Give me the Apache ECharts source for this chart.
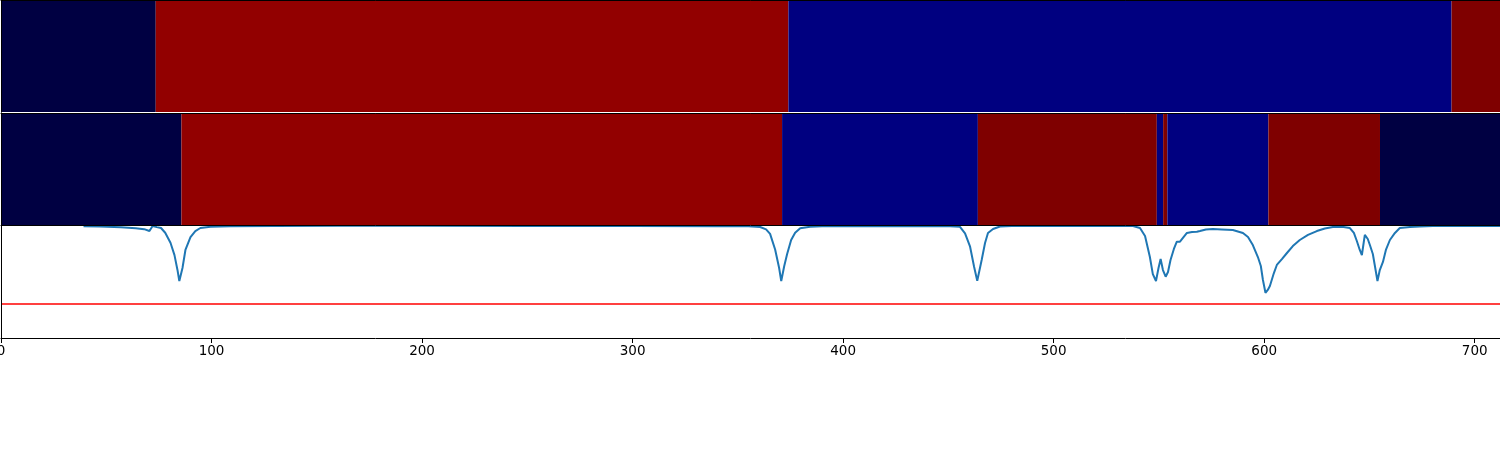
<!DOCTYPE html>
<html><head><meta charset="utf-8">
<script src="https://cdn.jsdelivr.net/npm/echarts@6/dist/echarts.min.js"></script>
<style>html,body{margin:0;padding:0;background:#fff}#c{width:1500px;height:450px}</style>
</head><body><div id="c"></div>
<script>
// x range and ticks
const xMax = 712;
const xTicks = [0, 100, 200, 300, 400, 500, 600, 700];
// segment colours
const palette = ['#000042', '#920000', '#000080', '#7f0000'];
// row 1 segments: [start, end, colourIndex]
const row1 = [[0, 73.5, 0], [73.5, 374, 1], [374, 689, 2], [689, 712, 3]];
// row 2 segments
const row2 = [[0, 85.7, 0], [85.7, 371, 1], [371, 464, 2], [464, 549, 3], [549, 552, 2], [552, 554, 3], [554, 602, 2], [602, 655, 3], [655, 712, 0]];
// line signal
const lineX = [39.2,47,57,64,68,70.5,72,74,76,78,80.5,82.4,83.8,84.7,86.2,87.6,90,92.3,94.7,99.5,109,130,160,200,250,300,340,
  355,360.6,363.4,365.3,367.7,369.6,370.6,372,373.4,375.3,377.2,379.6,384.3,390,420,445,
  450.8,455.5,457.9,460.3,462.2,463.7,465.8,467.4,468.8,471.2,474.5,480,500,520,
  537.7,541,543.4,545.7,547.1,548.6,549.8,550.8,551.9,553.2,554.3,555.5,557.1,558.5,560,561.4,563.3,565.7,568,569.5,572.3,575.6,579.9,585.1,589.9,592.3,594.6,597,598.4,599.4,600.6,601.7,602.7,604.6,606,608.4,610.8,613.6,616.9,620.8,625,628.8,632.6,636.9,640.7,642.6,644,645.4,646.4,647.3,647.8,649.2,650.2,651.6,652.5,653.8,654.9,656.4,657.8,659.7,662.1,664.4,669.2,673.9,680.1,695,712];
const lineY = [0.998,0.996,0.988,0.98,0.972,0.955,1.0,0.99,0.982,0.94,0.85,0.74,0.61,0.509,0.625,0.786,0.9,0.955,0.982,0.994,0.998,1.0,1.003,1.002,1.0,0.999,0.998,
  0.997,0.991,0.97,0.93,0.79,0.625,0.509,0.64,0.75,0.875,0.94,0.98,0.994,0.998,0.999,0.998,
  0.998,0.993,0.935,0.815,0.636,0.511,0.696,0.848,0.938,0.973,0.996,0.999,1.0,1.0,
  1.0,0.982,0.911,0.723,0.571,0.509,0.625,0.705,0.607,0.547,0.589,0.696,0.795,0.86,0.86,0.893,0.938,0.946,0.949,0.955,0.969,0.973,0.969,0.964,0.938,0.902,0.83,0.723,0.643,0.518,0.404,0.429,0.464,0.58,0.652,0.705,0.759,0.821,0.875,0.92,0.955,0.978,0.991,0.993,0.982,0.938,0.866,0.786,0.741,0.857,0.92,0.884,0.83,0.75,0.652,0.509,0.607,0.679,0.786,0.875,0.938,0.982,0.991,0.996,1.0,1.0,1.0];
const threshold = 0.308;

const chart = echarts.init(document.getElementById('c'));
const grids = [
  {left: 1, right: 0, top: 0, height: 112, show: false, outerBoundsMode: 'none', containLabel: false},
  {left: 1, right: 0, top: 113, height: 112, show: false, outerBoundsMode: 'none', containLabel: false},
  {left: 1, right: 0, top: 226, height: 112, show: false, outerBoundsMode: 'none', containLabel: false}
];
function xa(i, labels, pos, lineShow) {
  return {type: 'value', gridIndex: i, min: 0, max: xMax, interval: 100, position: pos,
    axisLine: {show: lineShow, onZero: false, lineStyle: {color: '#000', width: 1}},
    axisTick: {show: labels, length: 5, inside: false, lineStyle: {color: '#000'}},
    axisLabel: {show: labels, color: '#000', fontSize: 13.5, fontFamily: 'DejaVu Sans', margin: 6,
      customValues: xTicks},
    splitLine: {show: false}, z: 6};
}
function ya(i, show) {
  return {type: 'value', gridIndex: i, min: 0, max: 1, axisLabel: {show: false}, axisTick: {show: false},
    splitLine: {show: false}, axisLine: {show: show, onZero: false, lineStyle: {color: '#000'}}, z: 6};
}
function segSeries(rows, i) {
  return {type: 'custom', xAxisIndex: i, yAxisIndex: i, data: rows, z: 1, silent: true,
    renderItem: function (params, api) {
      const a = api.coord([api.value(0), 1]);
      const b = api.coord([api.value(1), 0]);
      return {type: 'rect', shape: {x: a[0], y: a[1], width: b[0] - a[0], height: b[1] - a[1]},
        style: {fill: palette[api.value(2)]}};
    },
    encode: {x: [0, 1]}};
}
chart.setOption({
  animation: false,
  grid: grids,
  xAxis: [xa(0, false, 'top', true), xa(1, false, 'bottom', true), xa(2, true, 'bottom', true), xa(1, false, 'top', true)],
  yAxis: [ya(0, true), ya(1, true), ya(2, true)],
  series: [
    segSeries(row1, 0),
    segSeries(row2, 1),
    {type: 'line', xAxisIndex: 2, yAxisIndex: 2, data: lineX.map((x, k) => [x, lineY[k]]),
      showSymbol: false, clip: true, lineStyle: {color: '#1f77b4', width: 2}, z: 0,
      markLine: {silent: true, symbol: 'none', label: {show: false},
        lineStyle: {color: '#ff0000', width: 1.6, type: 'solid'}, data: [{yAxis: threshold}]}}
  ]
});
</script></body></html>
